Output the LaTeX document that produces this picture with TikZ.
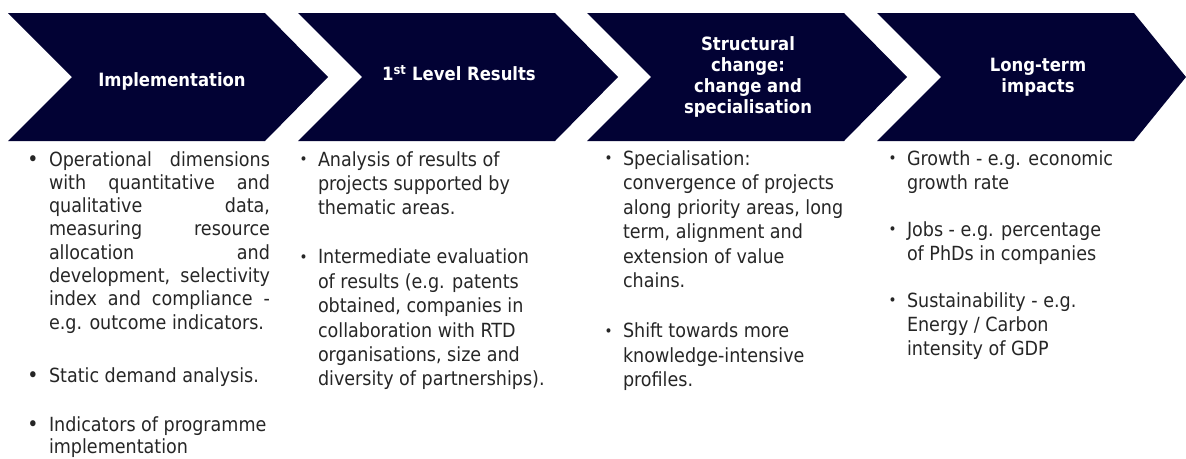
\documentclass[tikz,border=0pt]{standalone}
\usepackage{fontspec}
\setmainfont{DejaVu Sans Condensed}
\definecolor{navy}{RGB}{2,2,52}
\definecolor{txt}{RGB}{38,38,38}
\newcommand\bigbul{\leavevmode\llap{\fontsize{21}{24}\selectfont\raisebox{0pt}{•}\hspace{10.5pt}}}
\newcommand\smbul{\leavevmode\llap{\fontsize{15}{24}\selectfont\raisebox{1.5pt}{•}\hspace{10.5pt}}}
\newcommand\jl[1]{\makebox[221pt][s]{#1}\\}
\newcommand\bodyset[2]{\fontsize{19.5}{#1}\selectfont\setlength\parindent{0pt}\setlength\parskip{#2}}
\tikzset{
  chev/.style={fill=navy, draw=none},
  title/.style={text=white, font=\fontsize{18.3}{21}\selectfont\bfseries, align=center, inner sep=0pt},
  body/.style={anchor=base west, inner sep=0pt, outer sep=0pt, text=txt},
}
\newcommand\chevron[2]{\fill[chev] (#1,13) -- (#1+257,13) -- (#2,77) -- (#1+257,141) -- (#1,141) -- (#1+64,77) -- cycle;}
\begin{document}
\begin{tikzpicture}[x=1pt,y=-1pt]
\useasboundingbox (0,0) rectangle (1186,458);
\fill[white] (0,0) rectangle (1186,458);
\chevron{8}{328}
\chevron{298}{618}
\chevron{587}{907}
\chevron{877}{1186}
\node[title] (t1) at (172,81) {Implementation};
\node[title] (t2) at (459,73) {1\textsuperscript{st} Level Results};
\node[title] (t3) at (748,77) {Structural\\change:\\change and\\specialisation};
\node[title] (t4) at (1038,77) {Long-term\\impacts};
\node[body] (b1) at (49,166) {\begin{minipage}[t]{221pt}\bodyset{23.3pt}{0pt}
\bigbul\jl{Operational dimensions}\jl{with quantitative and}\jl{qualitative data,}\jl{measuring resource}\jl{allocation and}\jl{development, selectivity}\jl{index and compliance -}e.g. outcome indicators.\par\vspace{29.7pt}
\bigbul Static demand analysis.\par\vspace{25.7pt}
\bigbul Indicators of programme\\[-1.3pt]implementation\par
\end{minipage}};
\node[body] (b2) at (318,166) {\begin{minipage}[t]{260pt}\bodyset{24.4pt}{24.6pt}\raggedright
\smbul Analysis of results of\\projects supported by\\thematic areas.\par
\smbul Intermediate evaluation\\of results (e.g. patents\\obtained, companies in\\collaboration with RTD\\organisations, size and\\diversity of partnerships).\par
\end{minipage}};
\node[body] (b3) at (623,165) {\begin{minipage}[t]{250pt}\bodyset{24.5pt}{25.5pt}\raggedright
\smbul Specialisation:\\convergence of projects\\along priority areas, long\\term, alignment and\\extension of value\\chains.\par
\smbul Shift towards more\\knowledge-intensive\\profiles.\par
\end{minipage}};
\node[body] (b4) at (907,165) {\begin{minipage}[t]{260pt}\bodyset{24pt}{23pt}\raggedright
\smbul Growth - e.g. economic\\growth rate\par
\smbul Jobs - e.g. percentage\\of PhDs in companies\par
\smbul Sustainability - e.g.\\Energy / Carbon\\intensity of GDP\par
\end{minipage}};
\end{tikzpicture}
\end{document}
